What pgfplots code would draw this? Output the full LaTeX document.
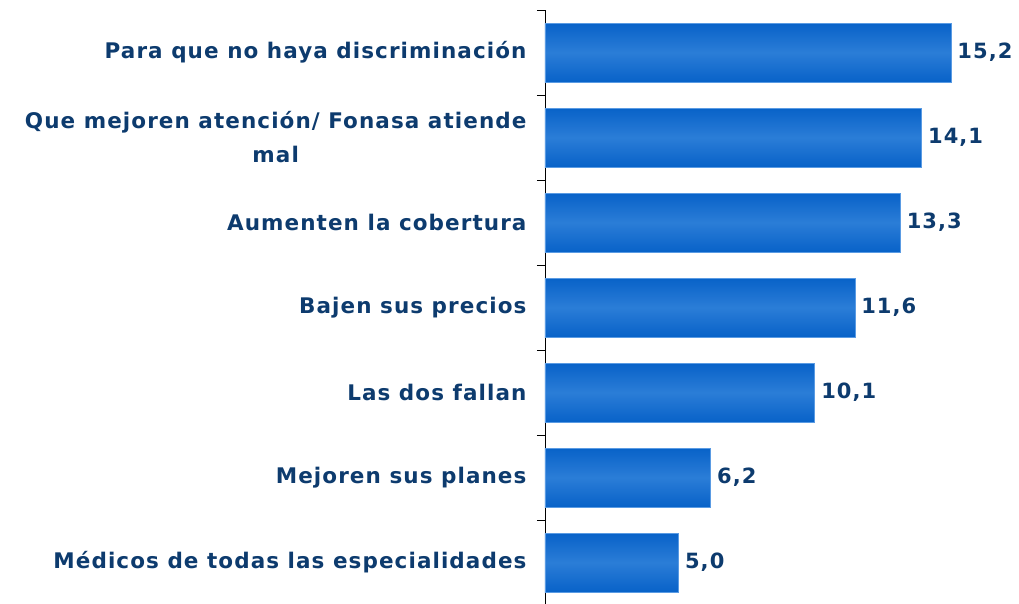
\documentclass[border=0pt]{standalone}
\usepackage{fontspec}
\setmainfont[LetterSpace=5]{DejaVu Sans}
\usepackage{pgfplots}
\pgfplotsset{compat=1.18}
\definecolor{txt}{HTML}{0D3B6E}
\definecolor{bardark}{HTML}{0862C8}
\definecolor{barlight}{HTML}{2B7DD7}
\definecolor{baredge}{HTML}{5A9BE3}
\pgfplotsset{onebar/.style={draw=baredge, line width=0.5pt, top color=bardark, bottom color=bardark, middle color=barlight}}
\begin{document}
\begin{tikzpicture}
\begin{axis}[
  name=a,
  scale only axis,
  width=474pt, height=595pt,
  xmin=0, xmax=17.75,
  ymin=-0.5, ymax=6.5,
  y dir=reverse,
  axis lines*=left,
  x axis line style={draw=none},
  xtick=\empty,
  ytick={0,...,6},
  yticklabels={Para que no haya discriminación,{Que mejoren atención/ Fonasa atiende\\mal},Aumenten la cobertura,Bajen sus precios,Las dos fallan,Mejoren sus planes,Médicos de todas las especialidades},
  major tick length=0pt,
  minor ytick={-0.5,0.5,...,6.5},
  minor tick length=8pt,
  tick align=outside,
  y axis line style={black, line width=0.9pt},
  minor tick style={black, line width=0.9pt},
  yticklabel style={font=\fontsize{21.5}{34}\selectfont\bfseries, text=txt, align=center, xshift=-15pt},
  xbar, bar width=59pt, bar shift=0pt,
  nodes near coords,
  nodes near coords style={font=\fontsize{21}{24}\selectfont\bfseries, text=txt, xshift=3pt,
    /pgf/number format/.cd, fixed, fixed zerofill, precision=1, use comma, assume math mode=true},
  clip=false,
]
\addplot[onebar] coordinates {(15.2,0)};
\addplot[onebar] coordinates {(14.1,1)};
\addplot[onebar] coordinates {(13.3,2)};
\addplot[onebar] coordinates {(11.6,3)};
\addplot[onebar] coordinates {(10.1,4)};
\addplot[onebar] coordinates {(6.2,5)};
\addplot[onebar] coordinates {(5.0,6)};
\end{axis}
\pgfresetboundingbox
\path[use as bounding box] ([xshift=-545pt,yshift=10pt]a.north west) rectangle ([yshift=-593pt]a.north east);
\end{tikzpicture}
\end{document}
